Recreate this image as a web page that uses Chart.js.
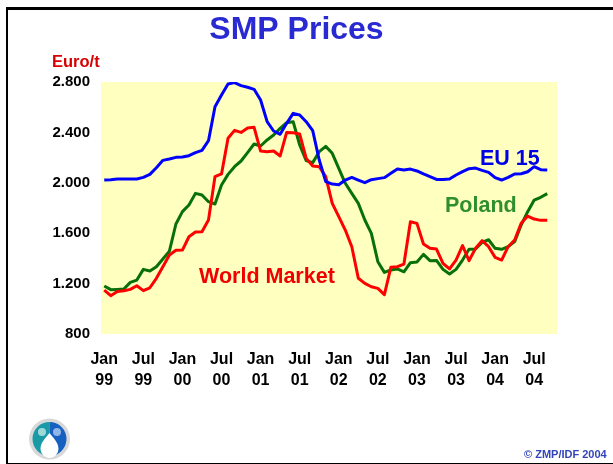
<!DOCTYPE html>
<html><head><meta charset="utf-8">
<style>
html,body{margin:0;padding:0;background:#fff;width:613px;height:464px;overflow:hidden}
#wrap{position:absolute;left:0;top:0;width:613px;height:464px}
canvas{display:block}
#frame{position:absolute;left:6px;top:7px;width:640px;height:453px;border-style:solid;border-color:#000;border-width:3px 0 2px 2.5px;box-sizing:content-box}
#logo{position:absolute;left:29px;top:418px;filter:blur(0.6px)}
</style>
<script src="https://cdn.jsdelivr.net/npm/chart.js@4"></script>
</head><body>
<div id="wrap"><canvas id="c" width="613" height="464"></canvas>
<div id="frame"></div>
<svg id="logo" width="44" height="44" viewBox="0 0 44 44">
<circle cx="20.5" cy="21" r="20.5" fill="#d8d8d8"/>
<path d="M20.5 4a17 17 0 0 0 0 34z" fill="#1a9aa6"/>
<path d="M20.5 4a17 17 0 0 1 0 34z" fill="#1560c0"/>
<path d="M20.5 15c3 4 9 9 9 16a9 9 0 0 1-18 0c0-7 6-12 9-16z" fill="#fff"/>
<circle cx="13" cy="14" r="4" fill="#9fd8d8"/><circle cx="28" cy="14" r="4" fill="#8fb4e6"/>
</svg></div>
<script>
const years = ["99","00","01","02","03","04"];
const eu15 = [2022,2025,2030,2030,2030,2030,2043,2067,2120,2178,2189,2202,2205,2215,2239,2258,2334,2604,2697,2784,2795,2771,2758,2742,2657,2485,2411,2385,2472,2551,2538,2485,2414,2181,2009,1990,1985,2022,2043,2022,2001,2025,2033,2041,2075,2109,2101,2109,2094,2070,2049,2027,2027,2030,2062,2088,2112,2117,2099,2083,2041,2022,2043,2070,2072,2088,2128,2104,2101];
const worldMarket = [1149,1104,1138,1144,1154,1183,1144,1167,1242,1334,1427,1464,1466,1572,1609,1612,1705,2049,2070,2353,2416,2400,2435,2440,2252,2247,2252,2213,2400,2397,2387,2194,2133,2128,2049,1837,1731,1625,1493,1242,1202,1175,1162,1112,1329,1334,1355,1691,1678,1514,1480,1474,1361,1316,1387,1501,1382,1480,1541,1493,1408,1387,1493,1546,1678,1736,1712,1702,1702];
const poland = [1181,1152,1154,1157,1210,1228,1313,1300,1334,1395,1458,1673,1771,1824,1916,1903,1850,1832,1982,2067,2128,2173,2239,2308,2292,2340,2379,2432,2477,2485,2300,2176,2160,2247,2289,2234,2115,1996,1916,1837,1705,1599,1374,1289,1308,1316,1294,1366,1371,1432,1382,1384,1313,1276,1313,1387,1472,1474,1527,1548,1480,1472,1493,1533,1665,1771,1863,1885,1914];
const yTicks = [800,1200,1600,2000,2400,2800];

const monthNames = ["Jan","Feb","Mar","Apr","May","Jun","Jul","Aug","Sep","Oct","Nov","Dec"];
const categories = [];
for (let i = 0; i < 70; i++) {
  categories.push(monthNames[i % 12] + " " + years[Math.floor(i / 12) % years.length]);
}
const font = "'Liberation Sans', Arial, sans-serif";

const annotations = {
  id: "annotations",
  afterDraw(chart) {
    const c = chart.ctx;
    const put = (t, x, y, col, size) => {
      c.save();
      c.font = "bold " + size + "px " + font;
      c.fillStyle = col;
      c.textAlign = "left";
      c.textBaseline = "alphabetic";
      c.fillText(t, x, y);
      c.restore();
    };
    put("Euro/t", 52, 66.500, "#d80000", 16.500);
    put("World Market", 199, 283, "#f00000", 21.500);
    put("Poland", 445, 212, "#2f8f2f", 21.500);
    put("EU 15", 480, 165, "#0000e6", 21.500);
    put("\u00a9 ZMP/IDF 2004", 524, 458, "#3344bb", 11);
  }
};

const ds = (label, data, color) => ({
  label, data, borderColor: color, backgroundColor: color,
  borderWidth: 3, borderJoinStyle: "round", pointRadius: 0, tension: 0, fill: false
});

new Chart(document.getElementById("c"), {
  type: "line",
  data: {
    labels: categories,
    datasets: [
      ds("EU 15", eu15, "#0000ff"),
      ds("World Market", worldMarket, "#ff0000"),
      ds("Poland", poland, "#087008")
    ]
  },
  plugins: [annotations, {
    id: "plotBg",
    beforeDatasetsDraw(chart) {
      const a = chart.chartArea, c = chart.ctx;
      c.save(); c.fillStyle = "#ffffc0";
      c.fillRect(a.left, a.top, a.width, a.height); c.restore();
    }
  }],
  options: {
    responsive: false,
    animation: false,
    layout: { padding: { left: 36, right: 56, top: 0, bottom: 0 } },
    plugins: {
      legend: { display: false },
      tooltip: { enabled: false },
      title: {
        display: true, text: "SMP Prices", color: "#2a2ad2",
        font: { family: font, size: 32, weight: "bold" },
        padding: { top: 11, bottom: 32.600 }
      }
    },
    scales: {
      x: {
        offset: true,
        grid: { display: false, drawTicks: false },
        border: { display: false },
        afterFit(s) { s.height = 130; },
        ticks: {
          autoSkip: false, maxRotation: 0, minRotation: 0, padding: 15,
          color: "#000", font: { family: font, size: 16, weight: "bold", lineHeight: 1.3 },
          callback(v, i) {
            if (i % 6 !== 0 || i > 66) return null;
            return categories[i].split(" ");
          }
        }
      },
      y: {
        min: 800, max: 2800,
        afterBuildTicks(s) { s.ticks = yTicks.map(v => ({ value: v })); },
        afterFit(s) { s.width = 65; },
        grid: { display: false, drawTicks: false },
        border: { display: false },
        ticks: {
          padding: 11, color: "#000",
          font: { family: font, size: 15, weight: "bold" },
          callback(v) { return v >= 1000 ? Math.floor(v / 1000) + "." + String(v % 1000).padStart(3, "0") : String(v); }
        }
      }
    }
  }
});
</script>
</body></html>
